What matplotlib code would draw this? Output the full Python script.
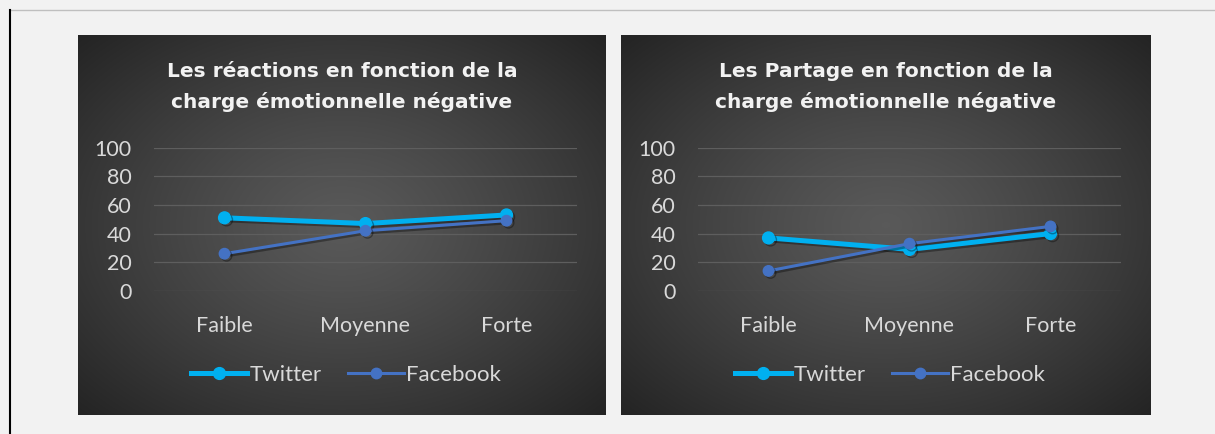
import numpy as np
import matplotlib.pyplot as plt
import matplotlib.patheffects as pe
from matplotlib.lines import Line2D

categories = ["Faible", "Moyenne", "Forte"]
reactions_twitter = [51, 47, 53]
reactions_facebook = [26, 42, 49]
partage_twitter = [37, 29, 40]
partage_facebook = [14, 33, 45]
titles = ["Les réactions en fonction de la\ncharge émotionnelle négative",
          "Les Partage en fonction de la\ncharge émotionnelle négative"]
yticks = [0, 20, 40, 60, 80, 100]

W, H = 1215, 434
TWITTER = "#00B0F0"
FACEBOOK = "#4472C4"
TXT = "#D9D9D9"

plt.rcParams['font.family'] = ['Lato', 'DejaVu Sans']


def fx(x):
    return x / W


def fy(y):
    return 1 - y / H


def rect(x0, y0, x1, y1):
    # pixel box (top-left origin) -> figure fraction
    return [fx(x0), fy(y1), fx(x1 - x0), (y1 - y0) / H]


def radial_bg(ax):
    yy, xx = np.mgrid[-1:1:300j, -1:1:500j]
    r = np.sqrt(xx ** 2 + yy ** 2) / np.sqrt(2)
    v = 0.35 - 0.21 * np.clip(r, 0, 1) ** 1.2
    img = np.dstack([v, v, v])
    ax.imshow(img, aspect="auto", extent=[0, 1, 0, 1], interpolation="bilinear")
    ax.set_xlim(0, 1)
    ax.set_ylim(0, 1)
    ax.axis("off")


def panel(px0, px1, gx0, gx1, title, tw, fb):
    bg = fig.add_axes(rect(px0, 35, px1, 415))
    radial_bg(bg)
    cx = (px0 + px1) / 2
    fig.text(fx(cx), fy(87), title, color="#F2F2F2", fontsize=14.5,
             fontweight="bold", family="DejaVu Sans", ha="center", va="center",
             linespacing=1.7)

    ax = fig.add_axes(rect(gx0, 147.5, gx1, 291))
    ax.patch.set_alpha(0)
    x = np.arange(len(categories))
    shadow = [pe.SimpleLineShadow(offset=(1.5, -1.5), alpha=0.35), pe.Normal()]
    ax.plot(x, tw, color=TWITTER, lw=3.6, marker="o", ms=8.5,
            label="Twitter", path_effects=shadow, zorder=3)
    ax.plot(x, fb, color=FACEBOOK, lw=2.2, marker="o", ms=7.5,
            label="Facebook", path_effects=shadow, zorder=4)
    ax.set_xlim(-0.5, 2.5)
    ax.set_ylim(0, 100)
    ax.set_yticks(yticks)
    ax.set_xticks(x)
    ax.set_xticklabels(categories)
    ax.grid(axis="y", color="#5E5E5E", lw=0.9)
    ax.set_axisbelow(True)
    for s in ax.spines.values():
        s.set_visible(False)
    ax.tick_params(axis="y", length=0, pad=16, labelsize=15.5, labelcolor=TXT)
    ax.tick_params(axis="x", length=0, pad=18, labelsize=15.5, labelcolor=TXT)

    handles = [Line2D([], [], color=TWITTER, lw=3.6, marker="o", ms=8.5),
               Line2D([], [], color=FACEBOOK, lw=2.2, marker="o", ms=7.5)]
    fig.legend(handles, ["Twitter", "Facebook"], loc="center",
               bbox_to_anchor=(fx(cx + 4), fy(375)), ncol=2, frameon=False,
               fontsize=16, labelcolor=TXT, handlelength=2.5,
               handletextpad=0.1, columnspacing=1.2)


fig = plt.figure(figsize=(W / 100, H / 100), dpi=100)
fig.patch.set_facecolor("#F2F2F2")

# page frame lines
fig.add_artist(Line2D([fx(10), 1], [fy(10), fy(10)], color="#BFBFBF", lw=1))
fig.add_artist(Line2D([fx(10), fx(10)], [fy(10), 0], color="black", lw=1.5))

panel(78, 606, 154, 577, titles[0], reactions_twitter, reactions_facebook)
panel(621, 1151, 698, 1121, titles[1], partage_twitter, partage_facebook)

plt.savefig("out.png", dpi=100)
plt.close()
